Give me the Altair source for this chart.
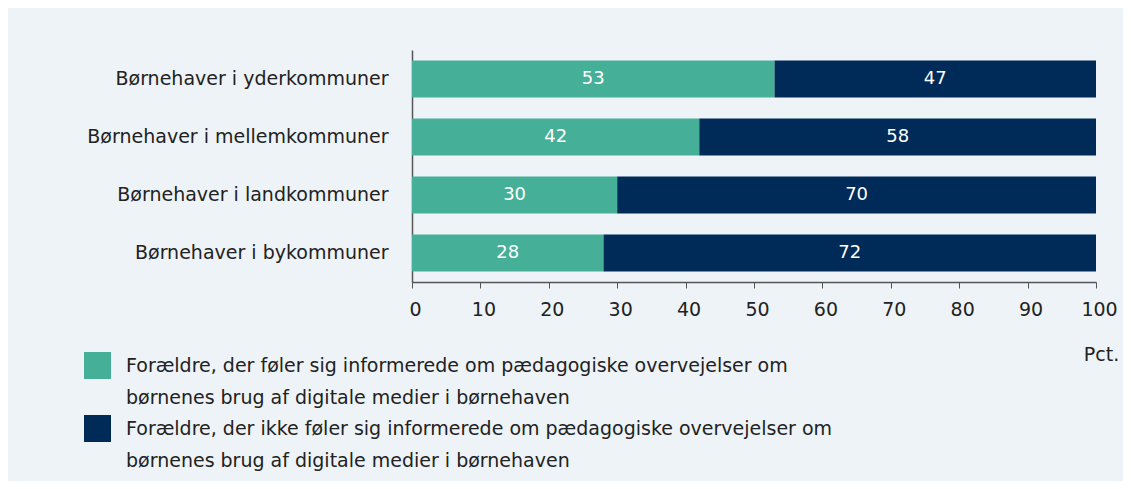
import altair as alt
import pandas as pd

categories = [
    "Børnehaver i yderkommuner",
    "Børnehaver i mellemkommuner",
    "Børnehaver i landkommuner",
    "Børnehaver i bykommuner",
]
informed = [53, 42, 30, 28]
not_informed = [47, 58, 70, 72]
series = [
    "Forældre, der føler sig informerede om pædagogiske overvejelser om\nbørnenes brug af digitale medier i børnehaven",
    "Forældre, der ikke føler sig informerede om pædagogiske overvejelser om\nbørnenes brug af digitale medier i børnehaven",
]
colors = ["#45b097", "#002b58"]
x_ticks = [0, 10, 20, 30, 40, 50, 60, 70, 80, 90, 100]

rows = []
for i, c in enumerate(categories):
    rows.append({"kategori": c, "serie": series[0], "vaerdi": informed[i], "orden": 0})
    rows.append({"kategori": c, "serie": series[1], "vaerdi": not_informed[i], "orden": 1})
df = pd.DataFrame(rows)

FONT = "DejaVu Sans"
TXT = "#222222"

y_enc = alt.Y(
    "kategori:N",
    sort=categories,
    scale=alt.Scale(paddingInner=0.36, paddingOuter=0.18),
    axis=alt.Axis(
        title=None,
        domain=True,
        domainColor="#555555",
        domainWidth=1.5,
        ticks=False,
        labelFontSize=19,
        labelColor=TXT,
        labelPadding=24,
        labelLimit=0,
        labelFont=FONT,
    ),
)

base = alt.Chart(df)

bars = base.mark_bar().encode(
    y=y_enc,
    x=alt.X(
        "vaerdi:Q",
        stack="zero",
        scale=alt.Scale(domain=[0, 100], nice=False),
        axis=alt.Axis(
            values=x_ticks,
            grid=False,
            domainColor="#555555",
            domainWidth=1.5,
            tickColor="#555555",
            tickSize=6,
            labelFontSize=19,
            labelColor=TXT,
            labelPadding=12,
            labelFlush=False,
            labelOffset=3,
            labelFont=FONT,
            title="Pct.",
            titleFont=FONT,
            titleFontSize=19,
            titleFontWeight="normal",
            titleColor=TXT,
            titleX=689,
            titleY=72,
            titleAlign="center",
            titleBaseline="middle",
        ),
    ),
    color=alt.Color(
        "serie:N",
        scale=alt.Scale(domain=series, range=colors),
        legend=alt.Legend(
            title=None,
            orient="none",
            legendX=-328,
            legendY=302,
            direction="vertical",
            symbolType="square",
            symbolSize=729,
            symbolStrokeWidth=0,
            symbolOpacity=1,
            labelFontSize=19,
            labelFont=FONT,
            labelColor=TXT,
            labelLimit=0,
            labelOffset=15,
            rowPadding=7,
            labelExpr="split(datum.label, '\\n')",
        ),
    ),
    order=alt.Order("orden:Q"),
)

labels = (
    base.transform_stack(
        stack="vaerdi",
        as_=["x0", "x1"],
        groupby=["kategori"],
        sort=[alt.SortField("orden")],
    )
    .transform_calculate(mid="(datum.x0 + datum.x1) / 2")
    .mark_text(color="white", fontSize=18, font=FONT, baseline="middle")
    .encode(
        y=alt.Y("kategori:N", sort=categories),
        x=alt.X("mid:Q"),
        text=alt.Text("vaerdi:Q"),
    )
)

chart = (
    alt.layer(bars, labels)
    .properties(
        width=684,
        height=232,
        background="#eef3f8",
        padding={"left": 404, "top": 42, "right": 27, "bottom": 199},
        autosize=alt.AutoSizeParams(type="none"),
    )
    .configure(style={"guide-label": {"lineHeight": 32}})
    .configure_view(stroke=None)
)

chart.save("out.html", embed_options={"renderer": "svg", "actions": False})
